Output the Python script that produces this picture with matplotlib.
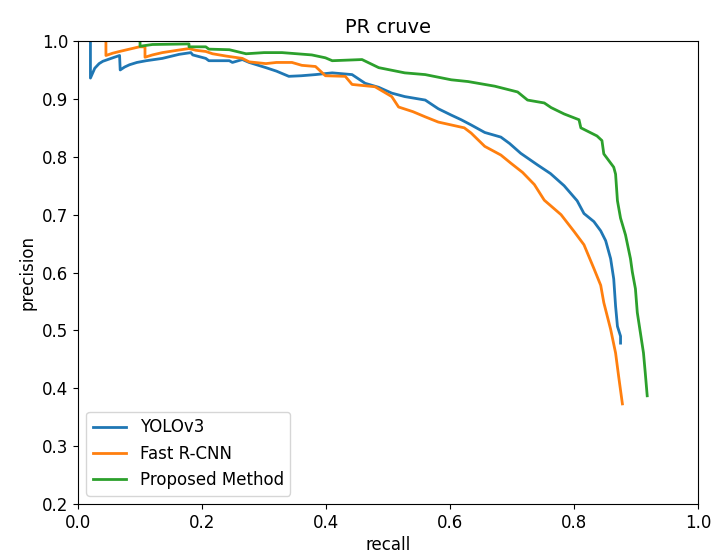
import matplotlib
matplotlib.use('Agg')
import matplotlib.pyplot as plt

# recall / precision points
yolo_recall = [0.020, 0.020, 0.027, 0.034, 0.040, 0.048, 0.056, 0.067, 0.068, 0.075,
               0.083, 0.095, 0.110, 0.136, 0.163, 0.182, 0.185, 0.206, 0.211, 0.244,
               0.249, 0.265, 0.276, 0.303, 0.320, 0.340, 0.360, 0.383, 0.410, 0.442,
               0.463, 0.485, 0.506, 0.527, 0.560, 0.581, 0.602, 0.618, 0.634, 0.656,
               0.682, 0.696, 0.714, 0.741, 0.762, 0.784, 0.805, 0.816, 0.832, 0.843,
               0.851, 0.859, 0.864, 0.867, 0.870, 0.875, 0.875]
yolo_precision = [1.000, 0.936, 0.953, 0.961, 0.965, 0.968, 0.971, 0.975, 0.950, 0.955,
                  0.959, 0.963, 0.966, 0.970, 0.977, 0.980, 0.976, 0.970, 0.966, 0.966,
                  0.963, 0.968, 0.963, 0.954, 0.948, 0.939, 0.940, 0.942, 0.945, 0.942,
                  0.927, 0.920, 0.910, 0.904, 0.898, 0.883, 0.872, 0.864, 0.855, 0.842,
                  0.834, 0.823, 0.806, 0.786, 0.771, 0.750, 0.724, 0.702, 0.688, 0.672,
                  0.655, 0.624, 0.589, 0.542, 0.507, 0.490, 0.478]

frcnn_recall = [0.045, 0.045, 0.056, 0.067, 0.083, 0.099, 0.108, 0.108, 0.120, 0.136,
                0.160, 0.179, 0.190, 0.206, 0.217, 0.239, 0.265, 0.276, 0.303, 0.320,
                0.345, 0.361, 0.383, 0.399, 0.431, 0.442, 0.479, 0.506, 0.517, 0.540,
                0.560, 0.581, 0.602, 0.623, 0.634, 0.656, 0.682, 0.698, 0.717, 0.736,
                0.752, 0.779, 0.800, 0.816, 0.832, 0.843, 0.848, 0.859, 0.867, 0.872,
                0.878]
frcnn_precision = [1.000, 0.975, 0.979, 0.982, 0.986, 0.990, 0.990, 0.972, 0.976, 0.980,
                   0.984, 0.987, 0.984, 0.982, 0.978, 0.974, 0.970, 0.964, 0.961, 0.963,
                   0.963, 0.958, 0.956, 0.940, 0.939, 0.925, 0.921, 0.904, 0.886, 0.878,
                   0.869, 0.860, 0.855, 0.850, 0.841, 0.818, 0.803, 0.789, 0.773, 0.752,
                   0.725, 0.700, 0.671, 0.648, 0.607, 0.578, 0.548, 0.502, 0.461, 0.420,
                   0.373]

ours_recall = [0.100, 0.100, 0.120, 0.179, 0.179, 0.206, 0.211, 0.244, 0.271, 0.300,
               0.329, 0.377, 0.399, 0.410, 0.458, 0.485, 0.527, 0.560, 0.602, 0.629,
               0.672, 0.709, 0.725, 0.752, 0.763, 0.784, 0.808, 0.811, 0.837, 0.845,
               0.848, 0.864, 0.867, 0.870, 0.875, 0.883, 0.891, 0.894, 0.899, 0.902,
               0.907, 0.912, 0.915, 0.918]
ours_precision = [1.000, 0.991, 0.994, 0.995, 0.990, 0.990, 0.986, 0.985, 0.978, 0.980,
                  0.980, 0.976, 0.971, 0.966, 0.968, 0.954, 0.945, 0.942, 0.933, 0.930,
                  0.922, 0.912, 0.898, 0.893, 0.885, 0.874, 0.864, 0.850, 0.836, 0.828,
                  0.805, 0.782, 0.770, 0.724, 0.694, 0.665, 0.624, 0.601, 0.572, 0.531,
                  0.496, 0.461, 0.425, 0.387]

fig = plt.figure(figsize=(7.12, 5.56), dpi=100)
ax = fig.add_axes([0.1096, 0.0935, 0.8708, 0.8327])

ax.plot(yolo_recall, yolo_precision, color='#1f77b4', lw=2.0, label='YOLOv3')
ax.plot(frcnn_recall, frcnn_precision, color='#ff7f0e', lw=2.0, label='Fast R-CNN')
ax.plot(ours_recall, ours_precision, color='#2ca02c', lw=2.0, label='Proposed Method')

ax.set_xlim(0.0, 1.0)
ax.set_ylim(0.2, 1.0)
ax.set_xlabel('recall', fontsize=12, labelpad=3)
ax.set_ylabel('precision', fontsize=12)
ax.set_title('PR cruve', fontsize=14)
ax.tick_params(labelsize=12)
ax.legend(loc='lower left', fontsize=12)

fig.savefig('out.png', dpi=100)
